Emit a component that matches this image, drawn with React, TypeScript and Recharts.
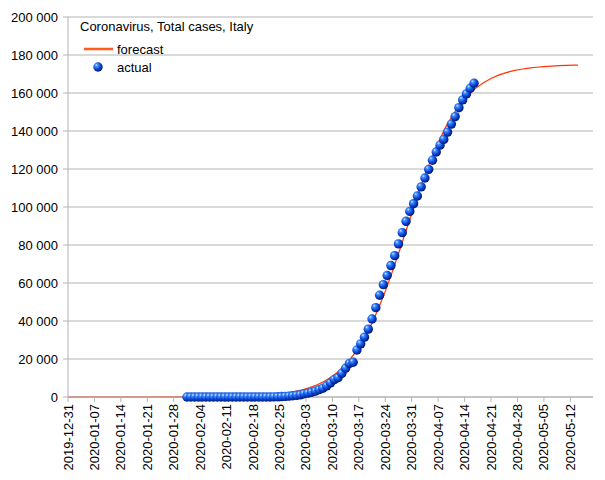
import {
  ComposedChart,
  Line,
  Scatter,
  XAxis,
  YAxis,
  CartesianGrid,
} from 'recharts'

// x axis is days since 2019-12-31
const tickDays = [0, 7, 14, 21, 28, 35, 42, 49, 56, 63, 70, 77, 84, 91, 98, 105, 112, 119, 126, 133]
const tickLabels = [
  '2019-12-31', '2020-01-07', '2020-01-14', '2020-01-21', '2020-01-28',
  '2020-02-04', '2020-02-11', '2020-02-18', '2020-02-25', '2020-03-03',
  '2020-03-10', '2020-03-17', '2020-03-24', '2020-03-31', '2020-04-07',
  '2020-04-14', '2020-04-21', '2020-04-28', '2020-05-05', '2020-05-12',
]
const yTicks = [0, 20000, 40000, 60000, 80000, 100000, 120000, 140000, 160000, 180000, 200000]

// actual cases, one per day, timestamps at midday starting 2020-01-31 12:00 (day 31.5)
const actualFirstDay = 31.5
const actualValues = [
  2, 2, 2, 2, 2, 2, 2, 2,
  3, 3, 3, 3, 3, 3, 3, 3, 3, 3, 3, 3, 3, 3,
  20, 79, 157, 229, 323, 470, 655, 889, 1128, 1694,
  2036, 2502, 3089, 3858, 4636, 5883, 7375, 9172, 10149, 12462,
  15113, 17660, 18300, 24747, 27980, 31506, 35713, 41035, 47021, 53578,
  59138, 63927, 69176, 74386, 80589, 86498, 92472, 97689, 101739, 105792,
  110574, 115242, 119827, 124632, 128948, 132547, 135586, 139422, 143626, 147577,
  152271, 156363, 159516, 162488, 165155,
]

// forecast curve
const forecastDays = [
  0, 10, 20, 30, 40, 50, 52, 54, 56, 58, 60, 62, 64, 66, 68, 70, 72, 74, 76, 78,
  80, 82, 84, 86, 88, 90, 92, 94, 96, 98, 100, 102, 104, 106, 108, 110, 112, 114,
  116, 118, 120, 122, 124, 126, 128, 130, 132, 134, 135,
]
const forecastValues = [
  1, 3, 11, 45, 180, 719, 948, 1250, 1646, 2167, 2852, 3746, 4913, 6429, 8389,
  10910, 14124, 18183, 23237, 29431, 36881, 45620, 55591, 66625, 78416, 90539,
  102554, 114007, 124537, 133925, 142032, 148810, 154417, 158960, 162575, 165427,
  167651, 169378, 170710, 171732, 172513, 173110, 173565, 173911, 174174, 174374,
  174525, 174640, 174690,
]

const actualData = actualValues.map((v, i) => ({ day: actualFirstDay + i, value: v }))
const forecastData = forecastDays.map((d, i) => ({ day: d, value: forecastValues[i] }))

const FONT = '"Liberation Sans", Arial, sans-serif'
const GRID = '#b3b3b3'
const LINE_COLOR = '#ff3300'

const formatThousands = (v: number) => String(v).replace(/\B(?=(\d{3})+(?!\d))/g, ' ')

const DateTick = (props: any) => {
  const { x, y, payload } = props
  const idx = tickDays.indexOf(payload.value)
  return (
    <text
      x={x}
      y={y}
      transform={`rotate(-90, ${x}, ${y})`}
      textAnchor="end"
      dy="0.35em"
      fontSize={13}
      fontFamily={FONT}
      fill="#000"
    >
      {idx >= 0 ? tickLabels[idx] : ''}
    </text>
  )
}

const Ball = (props: any) => {
  const { cx, cy } = props
  if (cx == null || cy == null) return null
  return <circle cx={cx} cy={cy} r={4.7} fill="url(#ballGrad)" />
}

export default function App() {
  return (
    <div style={{ position: 'absolute', left: 0, top: 0, width: 605, height: 480, background: '#fff' }}>
      <ComposedChart width={605} height={480} margin={{ top: 17, right: 12, left: 0, bottom: 5 }}>
        <defs>
          <radialGradient id="ballGrad" cx="40%" cy="38%" r="62%" fx="32%" fy="28%">
            <stop offset="0%" stopColor="#d8ecff" />
            <stop offset="25%" stopColor="#3f8cff" />
            <stop offset="65%" stopColor="#0a45d6" />
            <stop offset="100%" stopColor="#00186a" />
          </radialGradient>
        </defs>
        <CartesianGrid vertical={false} stroke={GRID} strokeWidth={1} />
        <XAxis
          type="number"
          dataKey="day"
          domain={[0, 139]}
          ticks={tickDays}
          interval={0}
          allowDataOverflow
          height={78}
          tickSize={5}
          stroke={GRID}
          tick={<DateTick />}
        />
        <YAxis
          type="number"
          domain={[0, 200000]}
          ticks={yTicks}
          interval={0}
          width={68}
          tickSize={5}
          tickMargin={5}
          stroke={GRID}
          tickFormatter={formatThousands}
          tick={{ fill: '#000', fontSize: 13, fontFamily: FONT }}
        />
        <Line
          data={forecastData}
          dataKey="value"
          type="linear"
          stroke={LINE_COLOR}
          strokeWidth={1.2}
          dot={false}
          activeDot={false}
          isAnimationActive={false}
        />
        <Scatter
          data={actualData}
          dataKey="value"
          shape={<Ball />}
          isAnimationActive={false}
        />
      </ComposedChart>
      <div style={{ position: 'absolute', left: 80, top: 19, fontFamily: FONT, fontSize: 13, color: '#000', whiteSpace: 'nowrap' }}>
        Coronavirus, Total cases, Italy
      </div>
      <svg style={{ position: 'absolute', left: 80, top: 40 }} width={36} height={36}>
        <defs>
          <radialGradient id="ballGradLegend" cx="40%" cy="38%" r="62%" fx="32%" fy="28%">
            <stop offset="0%" stopColor="#d8ecff" />
            <stop offset="25%" stopColor="#3f8cff" />
            <stop offset="65%" stopColor="#0a45d6" />
            <stop offset="100%" stopColor="#00186a" />
          </radialGradient>
        </defs>
        <line x1={4} y1={9} x2={33} y2={9} stroke="#ff5a1a" strokeWidth={2.5} />
        <circle cx={18} cy={27} r={4.7} fill="url(#ballGradLegend)" />
      </svg>
      <div style={{ position: 'absolute', left: 117, top: 42, fontFamily: FONT, fontSize: 13, color: '#000' }}>forecast</div>
      <div style={{ position: 'absolute', left: 117, top: 60, fontFamily: FONT, fontSize: 13, color: '#000' }}>actual</div>
    </div>
  )
}
